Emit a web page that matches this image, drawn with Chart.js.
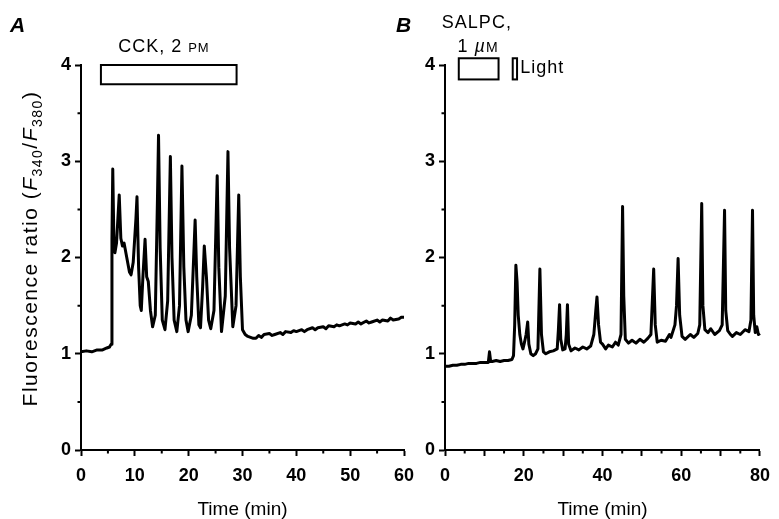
<!DOCTYPE html>
<html>
<head>
<meta charset="utf-8">
<script src="https://cdn.jsdelivr.net/npm/chart.js@4.4.1/dist/chart.umd.min.js"></script>
<style>
  html, body { margin: 0; padding: 0; background: #fff; }
  #wrap { position: relative; width: 779px; height: 519px; }
  #wrap canvas { position: absolute; left: 0; top: 0; }
</style>
</head>
<body>
<div id="wrap">
  <canvas id="chartA" width="779" height="519"></canvas>
  <canvas id="chartB" width="779" height="519"></canvas>
</div>
<script>
// panel A: CCK 2 pM
const timeA = [0, 1, 2, 3, 4, 4.8, 5.3, 5.6, 5.75, 5.9, 6.1, 6.3, 6.6, 7.1, 7.4, 7.7, 8.0, 8.5, 9.0, 9.3,
  9.7, 10.2, 10.4, 10.7, 11.0, 11.2, 11.5, 11.9, 12.2, 12.5, 12.9, 13.3, 13.8, 14.2, 14.4, 14.7, 15.1, 15.6,
  16.1, 16.6, 16.9, 17.3, 17.8, 18.3, 18.75, 19.1, 19.5, 19.9, 20.5, 21.0, 21.2, 21.5, 21.9, 22.2, 22.6,
  22.9, 23.3, 23.7, 24.1, 24.7, 25.3, 25.6, 26.1, 26.8, 27.3, 27.6, 28.2, 28.8, 29.3, 29.6, 30.0, 30.5,
  31.0, 32.0, 32.5, 33, 33.5, 34, 35, 35.5, 36, 37, 37.5, 38, 39, 39.5, 40, 41, 41.5, 42, 43, 43.5, 44, 45,
  45.5, 46, 47, 47.5, 48, 49, 49.5, 50, 51, 51.5, 52, 53, 53.5, 54, 55, 55.5, 56, 57, 57.5, 58, 59, 59.5, 60];
const ratioA = [1.02, 1.03, 1.02, 1.04, 1.04, 1.06, 1.07, 1.1, 2.2, 2.92, 2.2, 2.05, 2.15, 2.65, 2.2, 2.12, 2.15, 2.0, 1.85, 1.82,
  1.95, 2.4, 2.63, 1.9, 1.5, 1.45, 1.8, 2.19, 1.8, 1.75, 1.45, 1.28, 1.4, 2.6, 3.27, 2.1, 1.35, 1.25,
  1.55, 3.05, 2.0, 1.35, 1.23, 1.5, 2.95, 1.9, 1.35, 1.23, 1.4, 2.1, 2.39, 1.8, 1.3, 1.27, 1.7,
  2.12, 1.8, 1.35, 1.26, 1.45, 2.85, 1.9, 1.23, 1.6, 3.1, 2.1, 1.28, 1.5, 2.65, 1.8, 1.25, 1.2,
  1.18, 1.16, 1.16, 1.19, 1.17, 1.2, 1.21, 1.19, 1.2, 1.22, 1.2, 1.23, 1.22, 1.24, 1.23, 1.25, 1.23, 1.25, 1.27, 1.25, 1.27, 1.28,
  1.26, 1.29, 1.28, 1.3, 1.29, 1.31, 1.3, 1.32, 1.31, 1.33, 1.31, 1.34, 1.32, 1.33, 1.35, 1.33, 1.35, 1.34, 1.37, 1.35, 1.36, 1.38, 1.38];

// panel B: SALPC 1 uM, then light
const timeB = [0, 1, 2, 3, 4, 5, 6, 7, 8, 9, 10, 11, 11.3, 11.6, 12, 13, 14, 15, 16, 17, 17.4, 17.7, 18.0, 18.3,
  18.6, 19.0, 19.4, 19.8, 20.2, 20.6, 21.0, 21.3, 21.8, 22.4, 23.0, 23.6, 24.1, 24.5, 25.0, 25.6, 26.5, 27.5,
  28.5, 28.8, 29.1, 29.4, 29.9, 30.5, 30.8, 31.1, 31.4, 32, 33, 34, 35, 36, 37, 37.8, 38.3, 38.6, 39.0, 39.5,
  40.0, 40.8, 41.5, 42.5, 43.3, 44.0, 44.7, 45.1, 45.4, 45.8, 46.6, 47.5, 48.5, 49.5, 50.5, 51.5, 52.3, 53.0,
  53.4, 53.9, 54.9, 56, 57, 57.4, 58.4, 58.8, 59.2, 59.6, 60.2, 61, 62.3, 63.2, 64.2, 64.7, 65.2, 65.5, 66,
  66.8, 67.5, 68.5, 69.7, 70.4, 71.0, 71.3, 71.8, 72.5, 73, 74, 75, 76.2, 77.2, 77.7, 78.1, 78.4, 78.8, 79.2,
  79.6, 80];
const ratioB = [0.87, 0.87, 0.88, 0.88, 0.89, 0.89, 0.9, 0.9, 0.9, 0.91, 0.91, 0.91, 1.02, 0.92, 0.92, 0.93, 0.92, 0.93, 0.93, 0.94, 0.98, 1.3, 1.92, 1.75,
  1.4, 1.2, 1.1, 1.05, 1.12, 1.2, 1.33, 1.1, 1.0, 0.98, 1.0, 1.05, 1.88, 1.2, 1.02, 1.0, 1.02, 1.03,
  1.05, 1.25, 1.51, 1.15, 1.04, 1.05, 1.2, 1.51, 1.1, 1.03, 1.06, 1.04, 1.07, 1.05, 1.08, 1.2, 1.45, 1.59, 1.3, 1.12,
  1.1, 1.05, 1.09, 1.07, 1.12, 1.09, 1.2, 2.53, 1.6, 1.15, 1.11, 1.14, 1.11, 1.15, 1.12, 1.16, 1.2, 1.88,
  1.3, 1.12, 1.14, 1.13, 1.2, 1.17, 1.3, 1.5, 1.99, 1.4, 1.18, 1.15, 1.2, 1.17, 1.21, 1.3, 2.56, 1.5, 1.25,
  1.22, 1.26, 1.2, 1.24, 1.3, 2.49, 1.45, 1.24, 1.2, 1.18, 1.22, 1.2, 1.25, 1.23, 1.35, 2.49, 1.4, 1.22, 1.28,
  1.2, 1.21];

const yTicks = [0, 1, 2, 3, 4];
const yMinor = [0.5, 1.5, 2.5, 3.5];
const xTicksA = [0, 10, 20, 30, 40, 50, 60];
const xMinorA = [5, 15, 25, 35, 45, 55];
const xTicksB = [0, 10, 20, 30, 40, 50, 60, 70, 80];
const xLabelsB = [0, 20, 40, 60, 80];
const xMinorB = [5, 15, 25, 35, 45, 55, 65, 75];

// application bars (time range in min, ratio range)
const cckBar = [3.7, 28.9, 3.8, 4.0];
const salpcBar = [3.5, 13.6, 3.85, 4.07];
const lightBar = [17.2, 18.3, 3.85, 4.07];

const FONT = '"Liberation Sans", Arial, Helvetica, sans-serif';

function drawRich(ctx, x, y, parts, align, spacing) {
  ctx.letterSpacing = spacing + 'px';
  let total = 0;
  parts.forEach(p => { ctx.font = p.font; p.w = ctx.measureText(p.t).width; total += p.w; });
  let cx = align === 'center' ? x - total / 2 : x;
  ctx.textAlign = 'left';
  ctx.textBaseline = 'alphabetic';
  parts.forEach(p => { ctx.font = p.font; ctx.fillText(p.t, cx, y + (p.dy || 0)); cx += p.w; });
  ctx.letterSpacing = '0px';
}

function makeDecor(cfg) {
  return {
    id: 'decor' + cfg.name,
    afterDraw(chart) {
      const { ctx, chartArea, scales: { x, y } } = chart;
      ctx.save();
      ctx.strokeStyle = '#000';
      ctx.fillStyle = '#000';
      ctx.lineWidth = 2;
      // minor ticks
      ctx.beginPath();
      cfg.xMinor.forEach(v => {
        const px = x.getPixelForValue(v);
        ctx.moveTo(px, chartArea.bottom);
        ctx.lineTo(px, chartArea.bottom + 3.5);
      });
      yMinor.forEach(v => {
        const py = y.getPixelForValue(v);
        ctx.moveTo(chartArea.left, py);
        ctx.lineTo(chartArea.left - 3.5, py);
      });
      ctx.stroke();
      // application boxes
      cfg.boxes.forEach(b => {
        const x0 = x.getPixelForValue(b[0]), x1 = x.getPixelForValue(b[1]);
        const y0 = y.getPixelForValue(b[3]), y1 = y.getPixelForValue(b[2]);
        ctx.strokeRect(x0, y0, x1 - x0, y1 - y0);
      });
      // panel letter
      ctx.font = 'italic bold 21px ' + FONT;
      ctx.textAlign = 'left';
      ctx.textBaseline = 'alphabetic';
      ctx.fillText(cfg.name, chartArea.left + cfg.letterDx, 32);
      cfg.texts.forEach(tx => {
        drawRich(ctx, x.getPixelForValue(tx.x), y.getPixelForValue(tx.y), tx.parts, tx.align, 1);
      });
      if (cfg.yTitle) {
        ctx.translate(chartArea.left - 51, (chartArea.top + chartArea.bottom) / 2 - 9);
        ctx.rotate(-Math.PI / 2);
        const reg = '21px ' + FONT, it = 'italic 21px ' + FONT, sub = '14px ' + FONT;
        drawRich(ctx, 0, 7, [
          { t: 'Fluorescence ratio (', font: reg },
          { t: 'F', font: it },
          { t: '340', font: sub, dy: 5 },
          { t: '/', font: reg },
          { t: 'F', font: it },
          { t: '380', font: sub, dy: 5 },
          { t: ')', font: reg }
        ], 'center', 1.5);
      }
      ctx.restore();
    }
  };
}

function axisX(ticksArr, max, labels) {
  return {
    type: 'linear', min: 0, max: max,
    afterBuildTicks: s => { s.ticks = ticksArr.map(v => ({ value: v })); },
    ticks: {
      color: '#000', padding: 9, maxRotation: 0, autoSkip: false,
      font: { family: FONT, size: 18, weight: 'bold' },
      callback: v => labels.includes(v) ? String(v) : ''
    },
    grid: { drawOnChartArea: false, drawTicks: true, tickLength: 6, tickWidth: 2, color: '#000' },
    border: { display: true, color: '#000', width: 2 },
    title: { display: true, text: 'Time (min)', color: '#000', padding: { top: 0, bottom: 0 },
      font: { family: FONT, size: 19, lineHeight: 1 } },
    afterFit: s => { s.height = 69; }
  };
}

function axisY(width) {
  return {
    type: 'linear', min: 0, max: 4,
    afterBuildTicks: s => { s.ticks = yTicks.map(v => ({ value: v })); },
    ticks: { color: '#000', padding: 4, font: { family: FONT, size: 18, weight: 'bold' } },
    grid: { drawOnChartArea: false, drawTicks: true, tickLength: 6, tickWidth: 2, color: '#000' },
    border: { display: true, color: '#000', width: 2 },
    afterFit: s => { s.width = width; }
  };
}

function traceSet(ts, vs) {
  return {
    data: ts.map((t, i) => ({ x: t, y: vs[i] })),
    borderColor: '#000',
    borderWidth: 3,
    borderJoinStyle: 'round',
    pointRadius: 0,
    tension: 0,
    clip: false
  };
}

const baseOpts = {
  responsive: false,
  animation: false,
  plugins: { legend: { display: false }, tooltip: { enabled: false } }
};

new Chart(document.getElementById('chartA'), {
  type: 'line',
  data: { datasets: [traceSet(timeA, ratioA)] },
  options: Object.assign({}, baseOpts, {
    layout: { padding: { left: 0, top: 65, right: 375, bottom: 0 } },
    scales: { x: axisX(xTicksA, 60, xTicksA), y: axisY(81) }
  }),
  plugins: [makeDecor({
    name: 'A', letterDx: -71, xMinor: xMinorA, boxes: [cckBar], yTitle: true,
    texts: [{ x: 15.4, y: 4.13, align: 'center', parts: [
      { t: 'CCK, 2 ', font: '18px ' + FONT },
      { t: 'PM', font: '13px ' + FONT }
    ] }]
  })]
});

new Chart(document.getElementById('chartB'), {
  type: 'line',
  data: { datasets: [traceSet(timeB, ratioB)] },
  options: Object.assign({}, baseOpts, {
    layout: { padding: { left: 410, top: 65, right: 11, bottom: 0 } },
    scales: { x: axisX(xTicksB, 80, xLabelsB), y: axisY(35) }
  }),
  plugins: [makeDecor({
    name: 'B', letterDx: -49, xMinor: xMinorB, boxes: [salpcBar, lightBar], yTitle: false,
    texts: [
      { x: -0.8, y: 4.38, align: 'left', parts: [{ t: 'SALPC,', font: '18px ' + FONT }] },
      { x: 3.2, y: 4.135, align: 'left', parts: [
        { t: '1 ', font: '18px ' + FONT },
        { t: 'µ', font: 'italic 18px ' + FONT },
        { t: 'M', font: '14px ' + FONT }
      ] },
      { x: 19.1, y: 3.92, align: 'left', parts: [{ t: 'Light', font: '18px ' + FONT }] }
    ]
  })]
});
</script>
</body>
</html>
